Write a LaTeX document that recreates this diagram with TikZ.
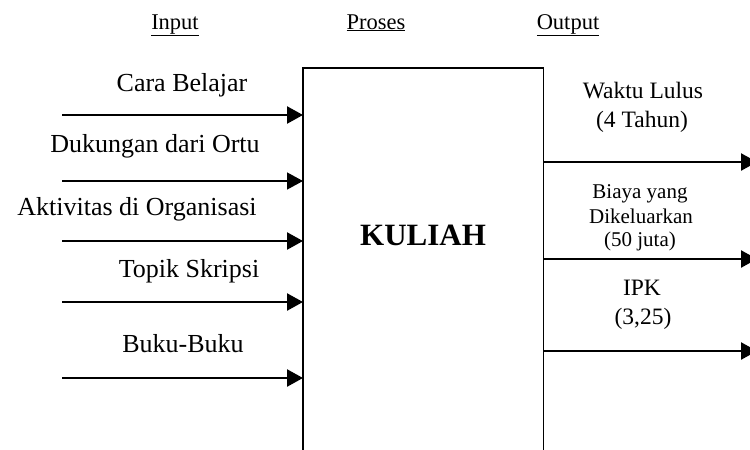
\documentclass[tikz,border=0pt]{standalone}
\usepackage{fontspec}
\setmainfont{Liberation Serif}
\usetikzlibrary{arrows.meta}
\tikzset{
  inlabel/.style={anchor=base, inner sep=0pt, font=\fontsize{26}{30}\selectfont},
  outlabel/.style={anchor=base, inner sep=0pt, font=\fontsize{23.5}{28}\selectfont},
  costlabel/.style={anchor=base, inner sep=0pt, font=\fontsize{21}{24}\selectfont},
  headlabel/.style={anchor=base, inner sep=0pt, font=\fontsize{22.5}{26}\selectfont},
  flow/.style={line width=2.4pt, -{Triangle[length=16pt, width=17pt]}},
  boxline/.style={line width=1.8pt},
}
\begin{document}
\begin{tikzpicture}[x=1pt, y=-1pt]
\useasboundingbox (0,0) rectangle (750,450);
\fill[white] (0,0) rectangle (750,450);

% headings
\node[headlabel] (hin)  at (175,29) {\underline{Input}};
\node[headlabel] (hpro) at (376,29) {\underline{Proses}};
\node[headlabel] (hout) at (568,29) {\underline{Output}};

% process box, open at the bottom
\node[minimum width=240pt, minimum height=384pt, inner sep=0pt, anchor=north west] (proc) at (303,68) {};
\draw[boxline] (proc.south west) ++(0,4) -- (proc.north west) -- (proc.north east) -- ++(0,388);
\node[anchor=base, inner sep=0pt, font=\bfseries\fontsize{31}{34}\selectfont] (kul) at (423,245) {KULIAH};

% inputs
\node[inlabel] (l1) at (182,91)  {Cara Belajar};
\node[inlabel] (l2) at (155,152) {Dukungan dari Ortu};
\node[inlabel] (l3) at (137,215) {Aktivitas di Organisasi};
\node[inlabel] (l4) at (189,277) {Topik Skripsi};
\node[inlabel] (l5) at (183,352) {Buku-Buku};

\coordinate (i1) at (62,115);
\coordinate (i2) at (62,181);
\coordinate (i3) at (62,241);
\coordinate (i4) at (62,302);
\coordinate (i5) at (62,378);
\draw[flow] (i1) -- (i1 -| proc.west);
\draw[flow, line width=1.4pt] (i2) -- (i2 -| proc.west);
\draw[flow] (i3) -- (i3 -| proc.west);
\draw[flow] (i4) -- (i4 -| proc.west);
\draw[flow] (i5) -- (i5 -| proc.west);

% outputs
\node[outlabel] (o1a) at (643,98)  {Waktu Lulus};
\node[outlabel] (o1b) at (642,127) {(4 Tahun)};
\node[costlabel] (o2a) at (640,198) {Biaya yang};
\node[costlabel] (o2b) at (641,223) {Dikeluarkan};
\node[costlabel] (o2c) at (640,246) {(50 juta)};
\node[outlabel] (o3a) at (642,295) {IPK};
\node[outlabel] (o3b) at (643,324) {(3,25)};

\coordinate (e1) at (757,162);
\coordinate (e2) at (757,259);
\coordinate (e3) at (757,351);
\draw[flow] (e1 -| proc.east) -- (e1);
\draw[flow] (e2 -| proc.east) -- (e2);
\draw[flow] (e3 -| proc.east) -- (e3);
\end{tikzpicture}
\end{document}
